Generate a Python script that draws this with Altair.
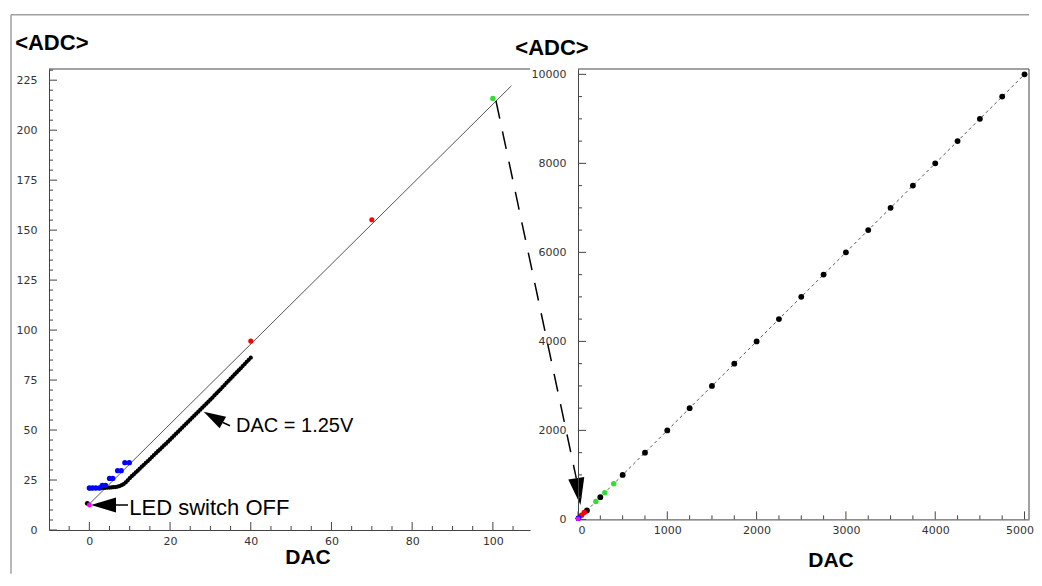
import altair as alt
import pandas as pd

# ---------------- data ----------------
# left panel: DAC scan with LED on (black)
scan_dac = [0.0, 0.5, 1.0, 1.5, 2.0, 2.5, 3.0, 3.5, 4.0, 4.5,
            5.0, 5.5, 6.0, 6.5, 7.0, 7.5, 8.0, 8.5, 9.0, 9.5,
            10.0, 10.5, 11.0, 11.5, 12.0, 12.5, 13.0, 13.5, 14.0, 14.5,
            15.0, 15.5, 16.0, 16.5, 17.0, 17.5, 18.0, 18.5, 19.0, 19.5,
            20.0, 20.5, 21.0, 21.5, 22.0, 22.5, 23.0, 23.5, 24.0, 24.5,
            25.0, 25.5, 26.0, 26.5, 27.0, 27.5, 28.0, 28.5, 29.0, 29.5,
            30.0, 30.5, 31.0, 31.5, 32.0, 32.5, 33.0, 33.5, 34.0, 34.5,
            35.0, 35.5, 36.0, 36.5, 37.0, 37.5, 38.0, 38.5, 39.0, 39.5,
            40.0]
scan_adc = [20.8, 20.8, 20.9, 20.9, 21.0, 21.0, 21.0, 21.1, 21.1, 21.2,
            21.2, 21.3, 21.4, 21.5, 21.7, 22.0, 22.4, 23.0, 23.8, 24.8,
            25.9, 26.9, 27.8, 28.8, 29.7, 30.7, 31.7, 32.6, 33.6, 34.5,
            35.5, 36.5, 37.5, 38.4, 39.4, 40.3, 41.3, 42.3, 43.2, 44.2,
            45.2, 46.2, 47.2, 48.2, 49.2, 50.2, 51.2, 52.2, 53.2, 54.2,
            55.2, 56.2, 57.2, 58.2, 59.2, 60.2, 61.2, 62.2, 63.2, 64.2,
            65.2, 66.2, 67.3, 68.3, 69.4, 70.4, 71.5, 72.5, 73.6, 74.6,
            75.7, 76.7, 77.8, 78.8, 79.9, 80.9, 82.0, 83.0, 84.1, 85.1,
            86.2]
off_black_dac = [-0.5]
off_black_adc = [13.3]
off_dac = [0.0]            # LED switch OFF (magenta)
off_adc = [12.5]
blue_dac = [0.0, 0.8, 1.6, 2.5, 3.2, 4.0, 5.0, 5.8, 7.0, 7.9, 8.8, 9.9]
blue_adc = [21.0, 21.0, 21.0, 21.0, 22.3, 22.3, 25.8, 25.8, 29.7, 29.7, 33.7, 33.7]
red_dac = [40.0, 70.0]
red_adc = [94.5, 155.2]
green_dac = [100.0]
green_adc = [215.9]
fit_dac = [0.0, 104.6]
fit_adc = [13.0, 222.2]

# right panel: full range
big_dac = [100, 250, 500, 750, 1000, 1250, 1500, 1750, 2000, 2250, 2500,
           2750, 3000, 3250, 3500, 3750, 4000, 4250, 4500, 4750, 5000]
big_adc = [200, 500, 1000, 1500, 2000, 2500, 3000, 3500, 4000, 4500, 5000,
           5500, 6000, 6500, 7000, 7500, 8000, 8500, 9000, 9500, 10000]
green2_dac = [200, 300, 400]
green2_adc = [400, 600, 800]
line2_dac = [0, 5000]
line2_adc = [0, 10000]

# tick values
x1_major = [0, 20, 40, 60, 80, 100]
x1_minor = [-5, 5, 10, 15, 25, 30, 35, 45, 50, 55, 65, 70, 75, 85, 90, 95, 105]
y1_major = [0, 25, 50, 75, 100, 125, 150, 175, 200, 225]
y1_minor = [5, 10, 15, 20, 30, 35, 40, 45, 55, 60, 65, 70, 80, 85, 90, 95,
            105, 110, 115, 120, 130, 135, 140, 145, 155, 160, 165, 170,
            180, 185, 190, 195, 205, 210, 215, 220, 230]
x2_major = [0, 1000, 2000, 3000, 4000, 5000]
x2_minor = [250, 500, 750, 1250, 1500, 1750, 2250, 2500, 2750,
            3250, 3500, 3750, 4250, 4500, 4750]
y2_major = [0, 2000, 4000, 6000, 8000, 10000]
y2_minor = [500, 1000, 1500, 2500, 3000, 3500, 4500, 5000, 5500,
            6500, 7000, 7500, 8500, 9000, 9500]

# ---------------- layout ----------------
W1, H1 = 481, 461
W2, H2 = 451, 450.4
X1 = alt.Scale(domain=[-10, 109.2], nice=False, zero=False)
Y1 = alt.Scale(domain=[0, 230.6], nice=False, zero=False)
X2 = alt.Scale(domain=[0, 5050], nice=False, zero=False)
Y2 = alt.Scale(domain=[0, 10120], nice=False, zero=False)
AX = "#444444"
ONE = pd.DataFrame({"k": [0]})
ARROW = "M0,0L1,-0.3L1,0.3Z"

xaxis1 = alt.Axis(values=x1_major, title=None, labelPadding=5, format="d")
yaxis1 = alt.Axis(values=y1_major, title=None, labelPadding=12, format="d")
xaxis2 = alt.Axis(
    values=x2_major, title=None, labelPadding=5, format="d",
    labelOffset={"condition": {"test": "datum.value == 5000", "value": -5}, "value": 0},
)
yaxis2 = alt.Axis(values=y2_major, title=None, labelPadding=12, format="d")
AXES = {id(X1): xaxis1, id(Y1): yaxis1, id(X2): xaxis2, id(Y2): yaxis2}


def pts(d, a, xs, ys, color, size):
    return alt.Chart(pd.DataFrame({"dac": d, "adc": a})).mark_circle(
        color=color, size=size, opacity=1
    ).encode(
        x=alt.X("dac:Q", scale=xs, axis=AXES[id(xs)]),
        y=alt.Y("adc:Q", scale=ys, axis=AXES[id(ys)]),
    )


def fline(d, a, xs, ys, dash=None):
    kw = dict(color="#555555", strokeWidth=1)
    if dash:
        kw["strokeDash"] = dash
    return alt.Chart(pd.DataFrame({"dac": d, "adc": a})).mark_line(**kw).encode(
        x=alt.X("dac:Q", scale=xs, axis=AXES[id(xs)]),
        y=alt.Y("adc:Q", scale=ys, axis=AXES[id(ys)]),
    )


def xticks(vals, xs, H, length):
    return alt.Chart(pd.DataFrame({"dac": vals})).mark_rule(color=AX, strokeWidth=1).encode(
        x=alt.X("dac:Q", scale=xs, axis=AXES[id(xs)]), y=alt.value(H), y2=alt.value(H - length)
    )


def yticks(vals, ys, length):
    return alt.Chart(pd.DataFrame({"adc": vals})).mark_rule(color=AX, strokeWidth=1).encode(
        y=alt.Y("adc:Q", scale=ys, axis=AXES[id(ys)]), x=alt.value(0), x2=alt.value(length)
    )


def prule(x, y, x2=None, y2=None, color=AX, width=1.0, dash=None):
    kw = dict(color=color, strokeWidth=width)
    if dash:
        kw["strokeDash"] = dash
    enc = dict(x=alt.value(x), y=alt.value(y))
    if x2 is not None:
        enc["x2"] = alt.value(x2)
    if y2 is not None:
        enc["y2"] = alt.value(y2)
    return alt.Chart(ONE).mark_rule(**kw).encode(**enc)


def txt(s, x, y, size, bold=False, align="left"):
    return alt.Chart(ONE).mark_text(
        text=s, font="Liberation Sans", fontSize=size,
        fontWeight="bold" if bold else "normal",
        align=align, baseline="alphabetic", color="black",
    ).encode(x=alt.value(x), y=alt.value(y))


def head(x, y, angle, length):
    return alt.Chart(ONE).mark_point(
        shape=ARROW, filled=True, color="black", opacity=1,
        size=(2 * length) ** 2, angle=angle, strokeWidth=0,
    ).encode(x=alt.value(x), y=alt.value(y))


left = alt.layer(
    # outer grey frame of the figure
    prule(-38, -54.3, y2=504.7, color="#a0a0a0", width=1.5),
    prule(-38, -54.3, x2=980, color="#a0a0a0", width=1.5),
    # plot frame top + inward ticks
    prule(0, 0, x2=W1),
    xticks(x1_major, X1, H1, 8),
    xticks(x1_minor, X1, H1, 4),
    yticks(y1_major, Y1, 8),
    yticks(y1_minor, Y1, 4),
    fline(fit_dac, fit_adc, X1, Y1),
    pts(scan_dac, scan_adc, X1, Y1, "black", 18),
    pts(off_black_dac, off_black_adc, X1, Y1, "black", 24),
    pts(blue_dac, blue_adc, X1, Y1, "#0000ff", 28),
    pts(red_dac, red_adc, X1, Y1, "#ff0000", 26),
    pts(green_dac, green_adc, X1, Y1, "#33dd33", 30),
    pts(off_dac, off_adc, X1, Y1, "#ff00ff", 24),
    # texts
    txt("<ADC>", 2.8, -19, 22, bold=True, align="center"),
    txt("DAC", 259, 495.4, 21, bold=True, align="center"),
    txt("LED switch OFF", 80.3, 446, 22),
    txt("DAC = 1.25V", 187, 362.7, 20),
    # arrows
    head(42, 436, 0, 25),
    prule(66, 436, x2=79, color="black", width=1.5),
    head(154.7, 342.7, 29.4, 22),
    prule(173.9, 353.5, x2=181, y2=356.7, color="black", width=1.5),
    prule(447, 32, x2=527.3, y2=409.3, color="black", width=1.5, dash=[18, 13]),
    head(531.5, 436, 261, 27),
).properties(width=W1, height=H1)

right = alt.layer(
    prule(0, 0, x2=W2),
    prule(W2, 0, y2=H2),
    xticks(x2_major, X2, H2, 8),
    xticks(x2_minor, X2, H2, 4),
    yticks(y2_major, Y2, 8),
    yticks(y2_minor, Y2, 4),
    fline(line2_dac, line2_adc, X2, Y2, dash=[3, 3]),
    pts(big_dac, big_adc, X2, Y2, "black", 34),
    pts(green2_dac, green2_adc, X2, Y2, "#33dd33", 30),
    pts(red_dac, red_adc, X2, Y2, "#ff0000", 30),
    pts(blue_dac, blue_adc, X2, Y2, "#0000ff", 24),
    pts(off_dac, off_adc, X2, Y2, "#ff00ff", 24),
    txt("<ADC>", -26, -14, 22, bold=True, align="center"),
    txt("DAC", 253, 497.7, 21, bold=True, align="center"),
).properties(width=W2, height=H2)

chart = alt.hconcat(
    left, right, spacing=48, bounds="flush",
    padding={"left": 2, "top": 5, "right": 0, "bottom": 0},
).configure_view(stroke=None).configure_axis(
    labelFont="DejaVu Sans", labelFontSize=11, labelColor="#333333",
    domainColor=AX, domainWidth=1, ticks=False, tickSize=0, grid=False,
)

chart.save("out.html", embed_options={"renderer": "svg", "actions": False})
